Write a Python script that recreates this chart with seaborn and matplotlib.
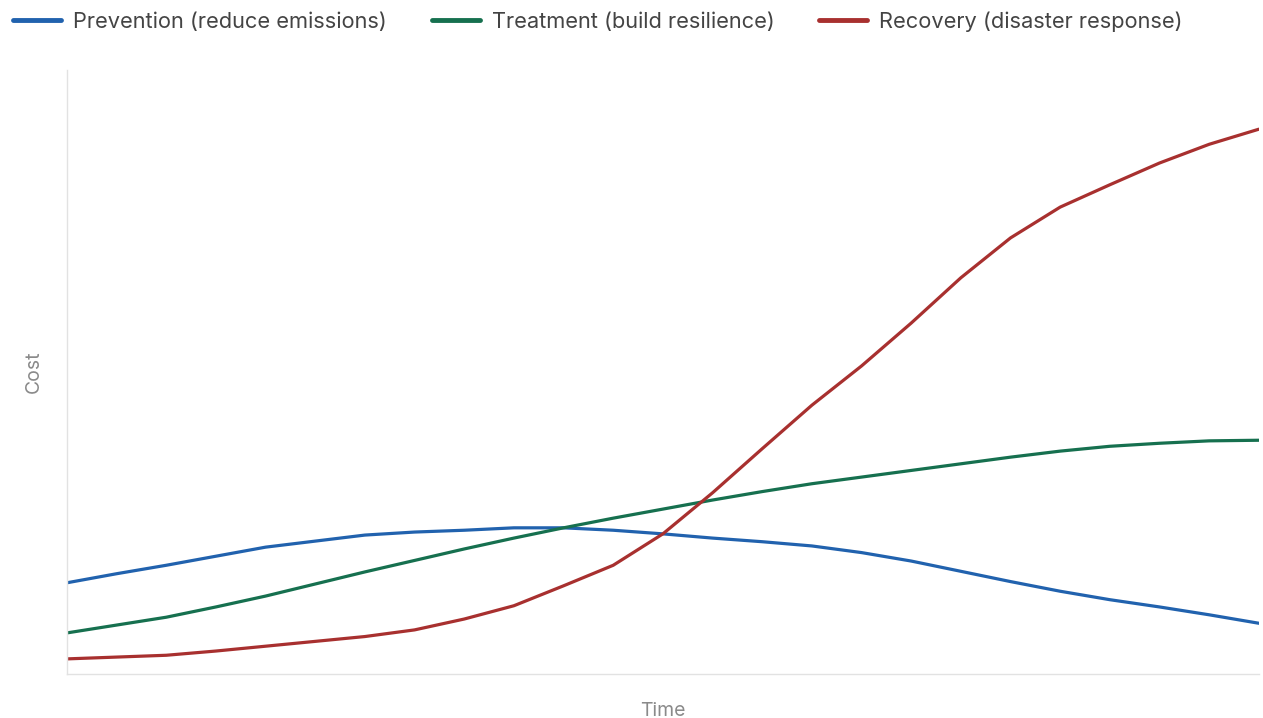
import numpy as np
import pandas as pd
import seaborn as sns
import matplotlib.pyplot as plt

# Time steps (arbitrary units)
time = list(range(25))

prevention = [15.1, 16.6, 18.0, 19.5, 21.0, 22.0, 23.0, 23.5, 23.8, 24.2, 24.2, 23.8, 23.2,
              22.5, 21.9, 21.2, 20.1, 18.7, 17.0, 15.3, 13.7, 12.3, 11.1, 9.8, 8.4]
treatment = [6.8, 8.1, 9.4, 11.1, 12.9, 14.9, 16.9, 18.8, 20.7, 22.5, 24.2, 25.8, 27.3,
             28.8, 30.2, 31.5, 32.6, 33.7, 34.8, 35.9, 36.9, 37.7, 38.2, 38.6, 38.7]
recovery = [2.5, 2.8, 3.1, 3.8, 4.6, 5.4, 6.2, 7.3, 9.1, 11.3, 14.6, 18.0, 23.2,
            30.0, 37.3, 44.5, 51.0, 58.1, 65.6, 72.2, 77.3, 81.0, 84.6, 87.7, 90.2]

series_names = ["Prevention (reduce emissions)",
                "Treatment (build resilience)",
                "Recovery (disaster response)"]
series_colors = ["#2162ae", "#16704f", "#a8302f"]

df = pd.concat([
    pd.DataFrame({"Time": time, "Cost": vals, "Strategy": name})
    for name, vals in zip(series_names, [prevention, treatment, recovery])
])

sns.set_theme(style="white")
plt.rcParams["font.family"] = ["Inter", "DejaVu Sans"]

fig = plt.figure(figsize=(12.63, 7.18), dpi=100)
ax = fig.add_axes([0.053, 0.0613, 0.9437, 0.8412])

sns.lineplot(data=df, x="Time", y="Cost", hue="Strategy",
             palette=dict(zip(series_names, series_colors)),
             linewidth=2.3, ax=ax, legend=False)
for line in ax.get_lines():
    line.set_solid_joinstyle("round")
    line.set_solid_capstyle("round")

ax.set_xlim(time[0], time[-1])
ax.set_ylim(0, 100)
ax.set_xticks([])
ax.set_yticks([])
for side in ["top", "right"]:
    ax.spines[side].set_visible(False)
for side in ["left", "bottom"]:
    ax.spines[side].set_color("#e2e2e2")
    ax.spines[side].set_linewidth(1.0)

ax.set_xlabel("Time", fontsize=14, color="#8a8a8a", labelpad=20)
ax.set_ylabel("Cost", fontsize=14, color="#8a8a8a", labelpad=17)

handles = [plt.Line2D([], [], color=c, linewidth=3.5, solid_capstyle="round")
           for c in series_colors]
fig.legend(handles, series_names, loc="upper left", bbox_to_anchor=(0.0105, 0.984),
           ncol=3, frameon=False, fontsize=15.7, borderpad=0, borderaxespad=0,
           handlelength=2.2, handletextpad=0.55, columnspacing=2.05,
           labelcolor="#444444")

fig.savefig("out.png", dpi=100, facecolor="white")
